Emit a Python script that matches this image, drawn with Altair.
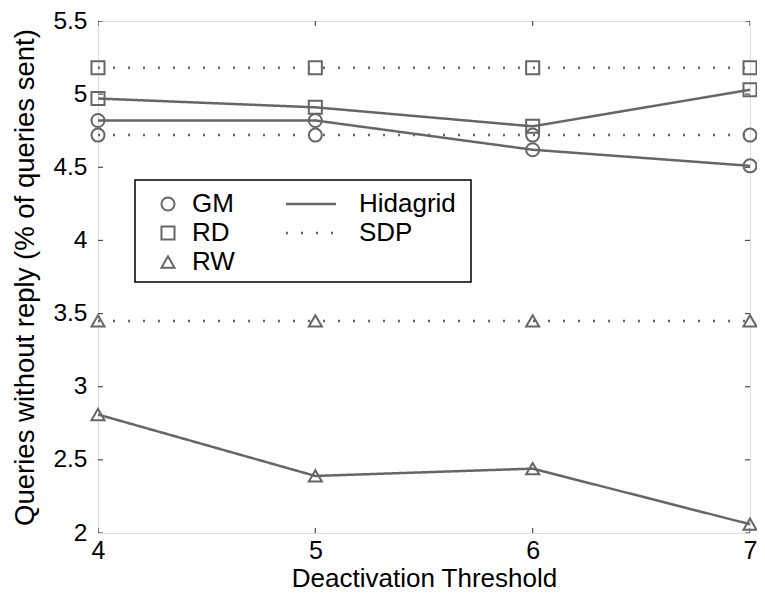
import altair as alt
import pandas as pd

thresholds = [4, 5, 6, 7]
gm_hidagrid = [4.82, 4.82, 4.62, 4.51]
rd_hidagrid = [4.97, 4.91, 4.78, 5.03]
rw_hidagrid = [2.81, 2.39, 2.44, 2.06]
gm_sdp = [4.72, 4.72, 4.72, 4.72]
rd_sdp = [5.18, 5.18, 5.18, 5.18]
rw_sdp = [3.45, 3.45, 3.45, 3.45]

x_ticks = [4, 5, 6, 7]
y_ticks = [2, 2.5, 3, 3.5, 4, 4.5, 5, 5.5]

series = {
    ("GM", "Hidagrid"): gm_hidagrid,
    ("RD", "Hidagrid"): rd_hidagrid,
    ("RW", "Hidagrid"): rw_hidagrid,
    ("GM", "SDP"): gm_sdp,
    ("RD", "SDP"): rd_sdp,
    ("RW", "SDP"): rw_sdp,
}
rows = []
for (s, t), vals in series.items():
    for x, v in zip(thresholds, vals):
        rows.append({"x": x, "y": v, "series": s, "type": t, "key": s + t})
df = pd.DataFrame(rows)

GRAY = "#666666"
FONT = "Liberation Sans"

xs = alt.Scale(domain=[4, 7], nice=False, zero=False)
ys = alt.Scale(domain=[2, 5.5], nice=False, zero=False)

base = alt.Chart(df)

lines = base.mark_line(color=GRAY, strokeWidth=2.5, strokeCap="butt").encode(
    x=alt.X("x:Q", scale=xs,
            axis=alt.Axis(values=x_ticks, format="d", domain=False, ticks=False, grid=False,
                          labelFlush=False, labelFontSize=25, labelPadding=5, labelFont=FONT,
                          labelColor="black",
                          title="Deactivation Threshold", titleFont=FONT, titleFontSize=26,
                          titleFontWeight="normal", titleColor="black", titlePadding=2)),
    y=alt.Y("y:Q", scale=ys,
            axis=alt.Axis(values=y_ticks, format=".1~f", domain=False, ticks=False, grid=False,
                          labelFlush=False, labelFontSize=24.5, labelPadding=11, labelFont=FONT,
                          labelColor="black",
                          title="Queries without reply (% of queries sent)", titleFont=FONT,
                          titleFontSize=27.5, titleFontWeight="normal", titleColor="black",
                          titlePadding=13)),
    detail="key:N",
    strokeDash=alt.StrokeDash(
        "type:N",
        scale=alt.Scale(domain=["Hidagrid", "SDP"], range=[[1, 0], [2, 13]]),
        legend=alt.Legend(title=None, orient="none", legendX=200, legendY=170,
                          symbolType="M-2.5,0H2.5", symbolSize=400, symbolStrokeColor=GRAY,
                          symbolStrokeWidth=2.5, labelFontSize=26, labelFont=FONT,
                          labelColor="black", labelOffset=35, rowPadding=3, padding=0),
    ),
)

points = base.mark_point(filled=False, color=GRAY, strokeWidth=2, size=170, opacity=1).encode(
    x=alt.X("x:Q", scale=xs),
    y=alt.Y("y:Q", scale=ys),
    shape=alt.Shape(
        "series:N",
        scale=alt.Scale(domain=["GM", "RD", "RW"], range=["circle", "square", "triangle-up"]),
        legend=alt.Legend(title=None, orient="none", legendX=57, legendY=170,
                          symbolStrokeColor=GRAY, symbolFillColor="transparent",
                          symbolStrokeWidth=2, symbolSize=170, labelFontSize=26,
                          labelFont=FONT, labelColor="black", labelOffset=11,
                          rowPadding=3, padding=0),
    ),
)

xt = pd.DataFrame({"x": x_ticks})
yt = pd.DataFrame({"y": y_ticks})
tick_x_bottom = alt.Chart(xt).mark_tick(orient="vertical", size=10, thickness=1.2, color="black", clip=True).encode(
    x=alt.X("x:Q", scale=xs), y=alt.datum(2, scale=ys))
tick_x_top = alt.Chart(xt).mark_tick(orient="vertical", size=10, thickness=1.2, color="black", clip=True).encode(
    x=alt.X("x:Q", scale=xs), y=alt.datum(5.5, scale=ys))
tick_y_left = alt.Chart(yt).mark_tick(orient="horizontal", size=10, thickness=1.2, color="black", clip=True).encode(
    y=alt.Y("y:Q", scale=ys), x=alt.datum(4, scale=xs))
tick_y_right = alt.Chart(yt).mark_tick(orient="horizontal", size=10, thickness=1.2, color="black", clip=True).encode(
    y=alt.Y("y:Q", scale=ys), x=alt.datum(7, scale=xs))

legend_box = alt.Chart(pd.DataFrame({"a": [0]})).mark_rect(
    fill="transparent", stroke="black", strokeWidth=1.5).encode(
    x=alt.value(37), x2=alt.value(373), y=alt.value(159), y2=alt.value(261))

chart = alt.layer(
    tick_x_bottom, tick_x_top, tick_y_left, tick_y_right, legend_box, lines, points
).properties(
    width=652, height=512,
    autosize=alt.AutoSizeParams(type="none"),
    padding={"left": 90, "top": 13, "right": 7, "bottom": 59},
).configure_view(stroke="#222222", strokeWidth=1.6).configure(background="white")

chart.save("out.html", embed_options={"renderer": "svg", "actions": False})
